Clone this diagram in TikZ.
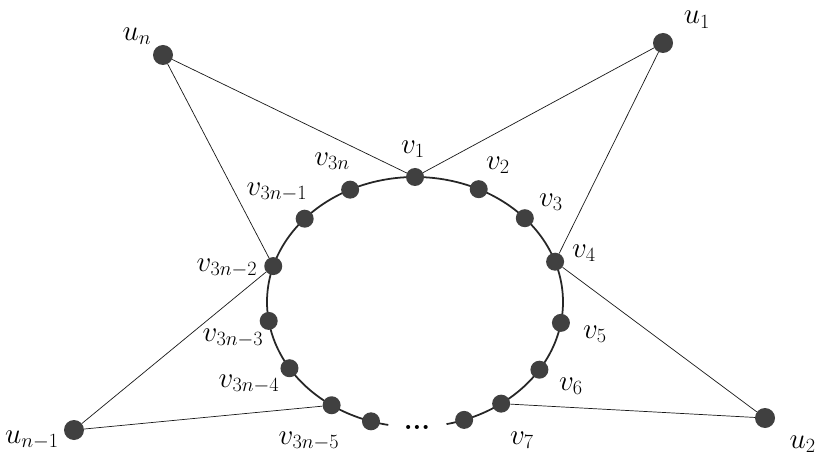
\documentclass[tikz,border=0pt]{standalone}
\usepackage{amsmath}
\begin{document}
\begin{tikzpicture}[x=0.03cm,y=-0.03cm,
  vtx/.style={circle,fill=black!75,inner sep=0pt,minimum size=18*0.03cm},
  uvtx/.style={circle,fill=black!75,inner sep=0pt,minimum size=20*0.03cm},
  lbl/.style={inner sep=0pt,font=\fontsize{23}{27}\selectfont},
  edge/.style={line width=0.6pt,black!90},
  cyc/.style={line width=1.5pt,black!85}]
\useasboundingbox (0,0) rectangle (819,459);
\fill[white] (0,0) rectangle (819,459);
\def\cx{415}\def\cy{302}\def\ra{148}\def\rb{125}
% cycle curve (open at the bottom)
\draw[cyc] plot[domain=100.4:437.7,samples=240] ({\cx+\ra*cos(\x)},{\cy+\rb*sin(\x)});
% cycle vertices
\foreach \n/\t in {v1/-90,v2/-64.5,v3/-42.1,v4/-18.8,v5/9.6,v6/32.8,v7/54.4,v8/70.6,
  w0/107.3,w5/124.3,w4/148,w3/171.3,w2/196.7,w1/221.8,wn/244}{
  \node[vtx] (\n) at ({\cx+\ra*cos(\t)},{\cy+\rb*sin(\t)}) {};
}
% outer vertices
\node[uvtx] (un) at (163,55) {};
\node[uvtx] (u1) at (663,43) {};
\node[uvtx] (u2) at (765,418) {};
\node[uvtx] (um) at (74,430) {};
% ellipsis
\node[inner sep=0pt,font=\fontsize{24}{28}\selectfont\bfseries] (dots) at (417,427) {...};
% edges
\draw[edge] (un) -- (v1);
\draw[edge] (un) -- (w2);
\draw[edge] (u1) -- (v1);
\draw[edge] (u1) -- (v4);
\draw[edge] (u2) -- (v4);
\draw[edge] (u2) -- (v7);
\draw[edge] (um) -- (w2);
\draw[edge] (um) -- (w5);
% labels
\node[lbl,anchor=base] (lu1) at (697,24) {$u_1$};
\node[lbl] (lun) at (137,36) {$u_n$};
\node[lbl] (lum) at (32,440) {$u_{n-1}$};
\node[lbl,anchor=east] (lu2) at (816,444) {$u_2$};
\node[lbl] (lv1) at (413,149) {$v_1$};
\node[lbl] (lv2) at (498,165) {$v_2$};
\node[lbl] (lv3) at (551,202) {$v_3$};
\node[lbl] (lv4) at (584,253) {$v_4$};
\node[lbl] (lv5) at (595,334) {$v_5$};
\node[lbl] (lv6) at (571,386) {$v_6$};
\node[lbl] (lv7) at (522,440) {$v_7$};
\node[lbl] (lw5) at (309,441) {$v_{3n-5}$};
\node[lbl] (lw4) at (249,384) {$v_{3n-4}$};
\node[lbl] (lw3) at (233,338) {$v_{3n-3}$};
\node[lbl] (lw2) at (227,268) {$v_{3n-2}$};
\node[lbl] (lw1) at (277,192) {$v_{3n-1}$};
\node[lbl] (lwn) at (332,161) {$v_{3n}$};
\end{tikzpicture}
\end{document}
